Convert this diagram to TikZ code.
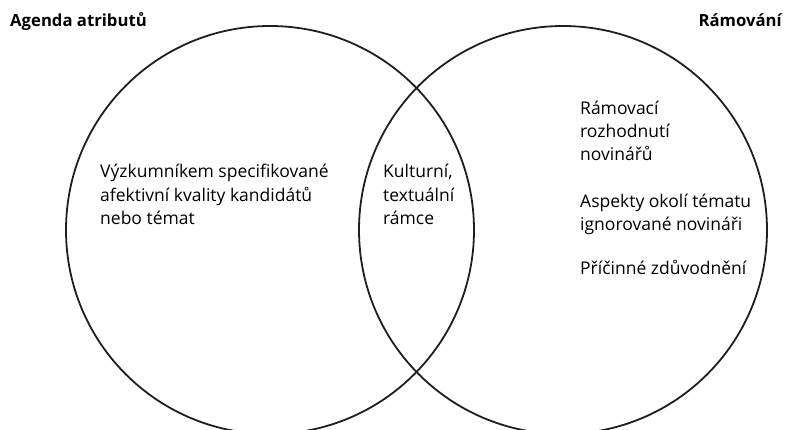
\documentclass[tikz,border=0pt]{standalone}
\usepackage{fontspec}
\setmainfont{Open Sans}
\begin{document}
\begin{tikzpicture}[x=1pt,y=-1pt,
  ring/.style={draw=black!88,line width=1.8pt},
  title/.style={font=\bfseries\fontsize{16.7}{20}\selectfont,inner sep=0pt},
  % multi-line nodes: base anchor sits on the baseline of the last line
  body/.style={font=\fontsize{17.5}{23.3}\selectfont,align=left,inner sep=0pt,anchor=base west}]
\useasboundingbox (0,0) rectangle (804,430);
\begin{scope}
\clip (0,0) rectangle (804,430);
\node[ring,circle,minimum size=408pt,inner sep=0pt] (agenda) at (270,230) {};
\node[ring,circle,minimum size=408pt,inner sep=0pt] (framing) at (563,230) {};
\end{scope}
\node[title,anchor=base west] (tleft) at (10,27) {Agenda atributů};
\node[title,anchor=base east] (tright) at (782,27) {Rámování};
\node[body] (leftText) at (100,224.6) {Výzkumníkem specifikované\\afektivní kvality kandidátů\\nebo témat};
\node[body] (midText) at (383,224.6) {Kulturní,\\textuální\\rámce};
\node[body] (rightA) at (580,161) {Rámovací\\rozhodnutí\\novinářů};
\node[body] (rightB) at (580,230.5) {Aspekty okolí tématu\\ignorované novináři};
\node[body] (rightC) at (580,275) {Příčinné zdůvodnění};
\end{tikzpicture}
\end{document}
